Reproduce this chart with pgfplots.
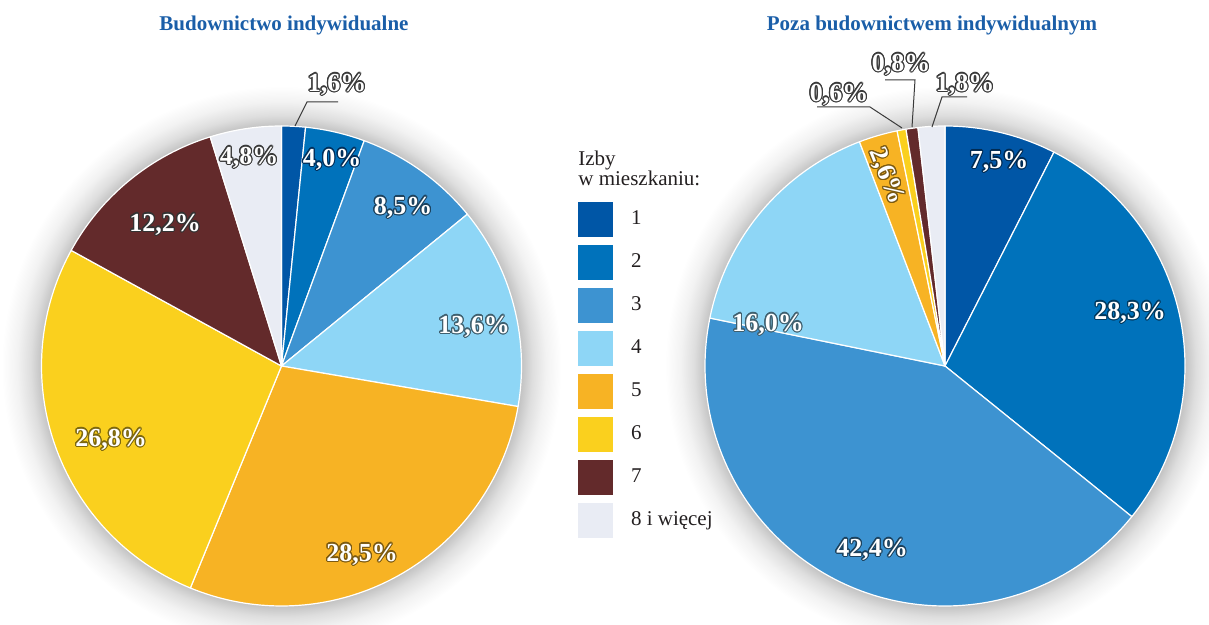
\documentclass[border=0pt]{standalone}
\usepackage{pgfplots}
\pgfplotsset{compat=1.18}
\usepackage{pgfplotstable}
\usepackage{fontspec}
\setmainfont{Liberation Serif}
\usepackage[copies]{contour}
\contourlength{0.55pt}

\definecolor{c1}{HTML}{0056A6}
\definecolor{c2}{HTML}{0072BB}
\definecolor{c3}{HTML}{3D93D1}
\definecolor{c4}{HTML}{8ED6F6}
\definecolor{c5}{HTML}{F7B324}
\definecolor{c6}{HTML}{FAD01E}
\definecolor{c7}{HTML}{632A2B}
\definecolor{c8}{HTML}{E9ECF4}
\definecolor{tytul}{HTML}{1A5EA8}
\definecolor{tekst}{HTML}{231F20}
\definecolor{linia}{HTML}{3A3A3A}

% udzial mieszkan wg liczby izb (%)
\pgfplotstableread{
izby udzial kolor
1 1.6 c1
2 4.0 c2
3 8.5 c3
4 13.6 c4
5 28.5 c5
6 26.8 c6
7 12.2 c7
8 4.8 c8
}\indyw
\pgfplotstableread{
izby udzial kolor
1 7.5 c1
2 28.3 c2
3 42.4 c3
4 16.0 c4
5 2.6 c5
6 0.6 c6
7 0.8 c7
8 1.8 c8
}\poza

\pgfdeclareradialshading{glow}{\pgfpoint{0bp}{0bp}}{%
  color(0bp)=(black!24); color(21.4bp)=(black!24); color(22.4bp)=(black!13);
  color(23.6bp)=(black!5); color(25bp)=(white); color(50bp)=(white)}

% pie from table #1, centre (#2,#3) in axis units, radius 240 units = 120pt
\newcommand\drawpie[3]{%
  \shade[shading=glow] (axis cs:#2,#3) circle[radius=140pt];
  \def\astart{90}%
  \pgfplotsforeachungrouped \i in {0,...,7}{%
    \pgfplotstablegetelem{\i}{udzial}\of#1\let\wart\pgfplotsretval
    \pgfplotstablegetelem{\i}{kolor}\of#1\let\slicecol\pgfplotsretval
    \pgfmathsetmacro\aend{\astart-3.6*\wart}%
    \edef\cmd{\noexpand\filldraw[fill=\slicecol, draw=white, line width=0.6pt, line join=round]
      (axis cs:#2,#3) -- ++(\astart:120pt) arc[start angle=\astart, end angle=\aend, radius=120pt] -- cycle;}%
    \cmd
    \let\astart\aend
  }%
}

\tikzset{
  lab/.style={font=\bfseries\fontsize{13}{15}\selectfont, text=white, inner sep=0pt},
}
\newcommand\inl[2]{\contour{#1}{#2}}
\newcommand\outl[1]{\contour{linia}{#1}}

\begin{document}
\begin{tikzpicture}
\begin{axis}[
    scale only axis, width=604.5pt, height=312.5pt,
    xmin=0, xmax=1209, ymin=0, ymax=625, y dir=reverse,
    hide axis, clip=false,
    legend style={at={(axis cs:578,202)}, anchor=north west, draw=none, fill=none,
      inner sep=0pt, outer sep=0pt, row sep=4pt, column sep=7pt,
      font=\fontsize{10.5}{12}\selectfont, text=tekst},
    legend cell align=left,
    legend image code/.code={\fill[#1, draw=none] (0pt,-8.75pt) rectangle (17.5pt,8.75pt);},
]
\coordinate (bl) at (axis cs:0,625);
\coordinate (tr) at (axis cs:1209,0);

\drawpie{\indyw}{281.5}{366}
\drawpie{\poza}{945}{366}

% titles
\node[font=\bfseries\fontsize{10.5}{12}\selectfont, text=tytul] at (axis cs:284,25) {Budownictwo indywidualne};
\node[font=\bfseries\fontsize{10.5}{12}\selectfont, text=tytul] at (axis cs:932,25) {Poza budownictwem indywidualnym};

% labels, left pie
\draw[linia, line width=0.5pt] (axis cs:295,126) -- (axis cs:307,102) -- (axis cs:338,102);
\node[lab] at (axis cs:337,85) {\outl{1,6\%}};
\node[lab] at (axis cs:332,160) {\inl{c1!55!black}{4,0\%}};
\node[lab] at (axis cs:403,208) {\inl{c3!45!black}{8,5\%}};
\node[lab] at (axis cs:474,327) {\inl{c4!45!black}{13,6\%}};
\node[lab] at (axis cs:362,555) {\inl{c5!50!black}{28,5\%}};
\node[lab] at (axis cs:111,440) {\inl{c6!50!black}{26,8\%}};
\node[lab] at (axis cs:165,225) {\inl{black!80}{12,2\%}};
\node[lab] at (axis cs:249,158) {\outl{4,8\%}};

% labels, right pie
\node[lab] at (axis cs:999,162) {\inl{c1!50!black}{7,5\%}};
\node[lab] at (axis cs:1130,313) {\inl{c2!50!black}{28,3\%}};
\node[lab] at (axis cs:872,550) {\inl{c3!45!black}{42,4\%}};
\node[lab] at (axis cs:768,325) {\inl{c4!45!black}{16,0\%}};
\node[lab, rotate=-68] at (axis cs:886,176) {\inl{c5!50!black}{2,6\%}};
\draw[linia, line width=0.5pt] (axis cs:902,128) -- (axis cs:870,107) -- (axis cs:817,107);
\node[lab] at (axis cs:839,95) {\outl{0,6\%}};
\draw[linia, line width=0.5pt] (axis cs:912,127) -- (axis cs:915,80) -- (axis cs:885,80);
\node[lab] at (axis cs:901,65) {\outl{0,8\%}};
\draw[linia, line width=0.5pt] (axis cs:932,127) -- (axis cs:942,97) -- (axis cs:967,97);
\node[lab] at (axis cs:965,85) {\outl{1,8\%}};

% legend
\node[anchor=base west, inner sep=0pt, text=tekst, font=\fontsize{10.5}{12}\selectfont] at (axis cs:578,166) {Izby};
\node[anchor=base west, inner sep=0pt, text=tekst, font=\fontsize{10.5}{12}\selectfont] at (axis cs:578,186) {w mieszkaniu:};
\addlegendimage{fill=c1}\addlegendentry{1}
\addlegendimage{fill=c2}\addlegendentry{2}
\addlegendimage{fill=c3}\addlegendentry{3}
\addlegendimage{fill=c4}\addlegendentry{4}
\addlegendimage{fill=c5}\addlegendentry{5}
\addlegendimage{fill=c6}\addlegendentry{6}
\addlegendimage{fill=c7}\addlegendentry{7}
\addlegendimage{fill=c8}\addlegendentry{8 i więcej}
\end{axis}
\pgfresetboundingbox
\useasboundingbox (bl) rectangle (tr);
\end{tikzpicture}
\end{document}
